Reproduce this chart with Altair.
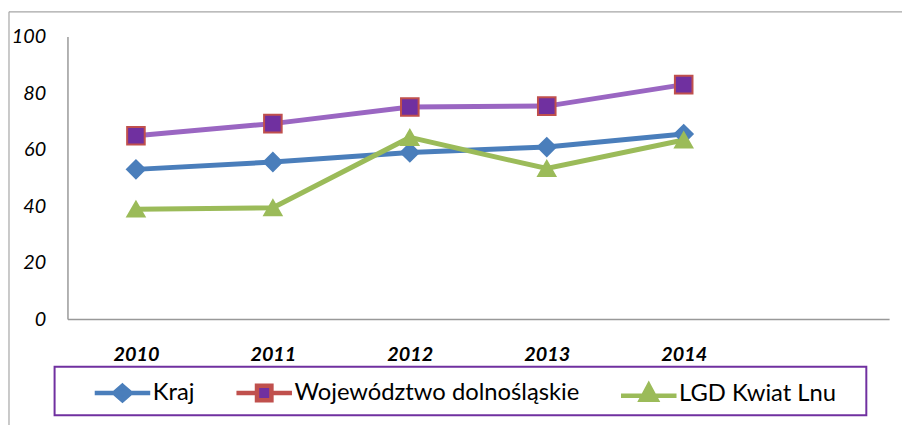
import altair as alt
import pandas as pd

years = [2010, 2011, 2012, 2013, 2014]
series_names = ["Kraj", "Województwo dolnośląskie", "LGD Kwiat Lnu"]
kraj = [53.0, 55.6, 59.0, 60.9, 65.5]
woj = [64.9, 69.2, 75.1, 75.4, 83.0]
lgd = [38.9, 39.4, 64.3, 53.3, 63.4]
y_ticks = [0, 20, 40, 60, 80, 100]

line_colors = ["#4A7EBB", "#9A66C2", "#9BBB59"]
fill_colors = ["#4A7EBB", "#7030A0", "#9BBB59"]
stroke_colors = ["#4A7EBB", "#C0504D", "#9BBB59"]

rows = []
for name, vals in zip(series_names, [kraj, woj, lgd]):
    for yr, v in zip(years, vals):
        rows.append({"year": yr, "value": v, "series": name})
df = pd.DataFrame(rows)

W, H = 829, 285

x_enc = alt.X("year:Q",
              scale=alt.Scale(domain=[2009.5, 2015.5], nice=False, zero=False),
              axis=alt.Axis(values=years, format="d", title=None, grid=False, ticks=False,
                            domainColor="#999999", domainWidth=1.5,
                            labelFont="Lato", labelFontStyle="italic", labelFontWeight="bold",
                            labelFontSize=20, labelColor="#000000", labelPadding=26))
y_enc = alt.Y("value:Q",
              scale=alt.Scale(domain=[0, 100], nice=False),
              axis=alt.Axis(values=y_ticks, title=None, grid=False, ticks=False,
                            domainColor="#999999", domainWidth=1.5,
                            labelFont="Lato", labelFontStyle="italic",
                            labelFontSize=20, labelColor="#000000", labelPadding=22))

lines = alt.Chart(df).mark_line(strokeWidth=5).encode(
    x=x_enc, y=y_enc,
    color=alt.Color("series:N", scale=alt.Scale(domain=series_names, range=line_colors), legend=None),
    detail="series:N",
)

points = alt.Chart(df).mark_point(filled=True, strokeWidth=2, opacity=1).encode(
    x=x_enc, y=y_enc,
    shape=alt.Shape("series:N", scale=alt.Scale(domain=series_names, range=["diamond", "square", "triangle-up"]), legend=None),
    fill=alt.Fill("series:N", scale=alt.Scale(domain=series_names, range=fill_colors), legend=None),
    stroke=alt.Stroke("series:N", scale=alt.Scale(domain=series_names, range=stroke_colors), legend=None),
    size=alt.Size("series:N", scale=alt.Scale(domain=series_names, range=[330, 300, 420]), legend=None),
)

legend_paths = [
    "M-1,0H1M0,-0.26L0.3,0L0,0.26L-0.3,0Z",
    "M-1,0H-0.26M0.26,0H1M-0.26,-0.26H0.26V0.26H-0.26Z",
    "M-1,0.08H1M0,-0.3L0.28,0.22L-0.28,0.22Z",
]

legend_layer = alt.Chart(df).transform_filter(alt.datum.year < 0).mark_point(
    filled=True, strokeWidth=4.5, opacity=1
).encode(
    shape=alt.Shape("series:N", scale=alt.Scale(domain=series_names, range=legend_paths),
                    legend=alt.Legend(title=None, orient="none", direction="horizontal",
                                      legendX=25, legendY=329, symbolSize=3136,
                                      symbolStrokeWidth=4.5, symbolOpacity=1,
                                      labelFont="Lato", labelFontSize=24,
                                      labelColor="#000000", labelOffset=0, columnPadding=32,
                                      padding=0, labelLimit=400)),
    fill=alt.Fill("series:N", scale=alt.Scale(domain=series_names, range=fill_colors)),
    stroke=alt.Stroke("series:N", scale=alt.Scale(domain=series_names, range=stroke_colors)),
)

one = pd.DataFrame({"k": [1]})
legend_box = alt.Chart(one).mark_rect(fill=None, stroke="#7030A0", strokeWidth=2).encode(
    x=alt.value(-13), x2=alt.value(806), y=alt.value(333), y2=alt.value(382)
)
frame_top = alt.Chart(one).mark_rule(stroke="#A6A6A6", strokeWidth=1.2).encode(
    x=alt.value(-59), x2=alt.value(900), y=alt.value(-25)
)
frame_left = alt.Chart(one).mark_rule(stroke="#A6A6A6", strokeWidth=1.2).encode(
    x=alt.value(-59), y=alt.value(-25), y2=alt.value(420)
)

chart = alt.layer(frame_top, frame_left, lines, points, legend_layer, legend_box).resolve_scale(
    color="independent", fill="independent", stroke="independent", shape="independent", size="independent"
).properties(
    width=W, height=H,
    autosize=alt.AutoSizeParams(type="none"),
    padding={"left": 60, "top": 27, "right": 13, "bottom": 105},
).configure(background="#FFFFFF", view=alt.ViewConfig(stroke=None))

chart.save("out.html", embed_options={"renderer": "svg", "actions": False})
